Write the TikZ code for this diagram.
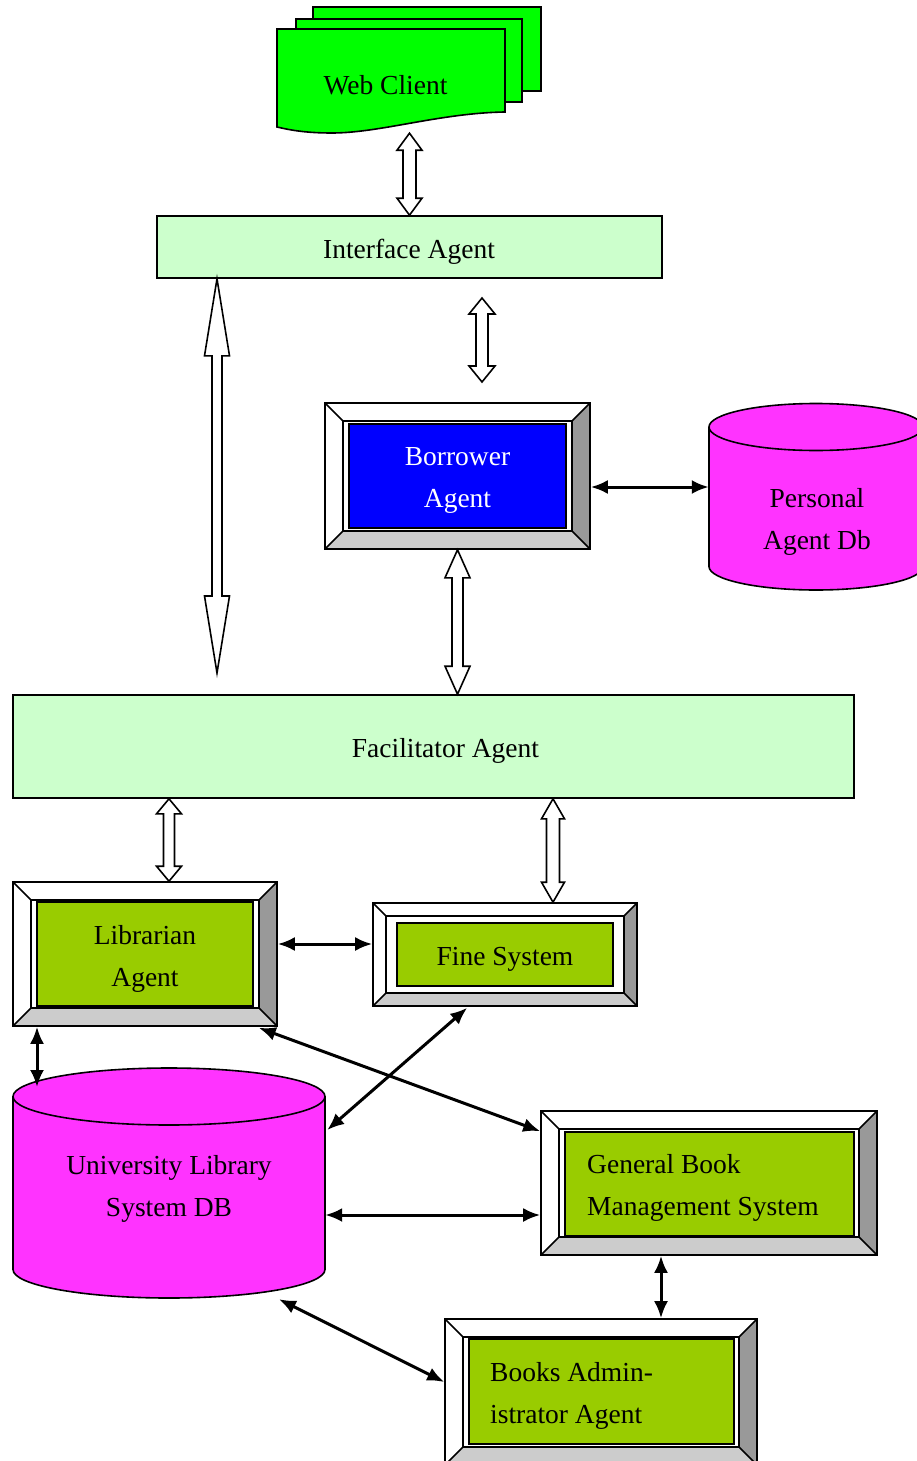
\documentclass[tikz,border=0pt]{standalone}
\usepackage{fontspec}
\setmainfont{Liberation Serif}
\usetikzlibrary{arrows.meta,calc,fit}

\definecolor{webgreen}{HTML}{00FF00}
\definecolor{palegreen}{HTML}{CCFFCC}
\definecolor{agentgreen}{HTML}{99CC00}
\definecolor{dbmagenta}{HTML}{FF33FF}
\definecolor{agentblue}{HTML}{0000FF}
\definecolor{bevelright}{HTML}{999999}
\definecolor{bevelbottom}{HTML}{CCCCCC}

\tikzset{
  lbl/.style={font=\fontsize{27.5}{42}\selectfont, inner sep=0pt, align=center},
  edge/.style={draw=black, line width=1.6pt},
  panel/.style={edge, inner sep=0pt},
  link/.style={line width=3pt, {Latex[length=17pt,width=14pt]}-{Latex[length=17pt,width=14pt]}},
  hollow/.style={draw=black, fill=white, line width=1.6pt, line join=miter},
}

% framed panel with a bevelled border: name, left, top, right, bottom, bevel width
\newcommand\bevelframe[6]{%
  \fill[white] (#2,#3) -- (#4,#3) -- (#4-#6,#3+#6) -- (#2+#6,#3+#6) -- (#2+#6,#5-#6) -- (#2,#5) -- cycle;
  \fill[bevelright] (#4,#3) -- (#4,#5) -- (#4-#6,#5-#6) -- (#4-#6,#3+#6) -- cycle;
  \fill[bevelbottom] (#2,#5) -- (#4,#5) -- (#4-#6,#5-#6) -- (#2+#6,#5-#6) -- cycle;
  \draw[edge] (#2,#3) -- (#2+#6,#3+#6) (#4,#3) -- (#4-#6,#3+#6)
              (#2,#5) -- (#2+#6,#5-#6) (#4,#5) -- (#4-#6,#5-#6);
  \draw[edge] (#2+#6,#3+#6) rectangle (#4-#6,#5-#6);
  \node[panel, fit={(#2,#3) (#4,#5)}] (#1) {};
}

% database cylinder: name, centre x, top y, bottom y, x radius, y radius
\newcommand\dbcylinder[6]{%
  \filldraw[fill=dbmagenta, edge] (#2,#4) ellipse [x radius=#5pt, y radius=#6pt];
  \fill[dbmagenta] (#2-#5,#3) rectangle (#2+#5,#4);
  \draw[edge] (#2-#5,#3) -- (#2-#5,#4) (#2+#5,#3) -- (#2+#5,#4);
  \filldraw[fill=dbmagenta, edge] (#2,#3) ellipse [x radius=#5pt, y radius=#6pt];
  \node[inner sep=0pt, fit={(#2-#5,#3-#6) (#2+#5,#4+#6)}] (#1) {};
}

% open double-headed block arrow between an upper and a lower tip:
% upper tip, lower tip, shaft half width, head half width, head length
\newcommand\hollowarrow[5]{%
  \draw[hollow] let \p1=(#1), \p2=(#2) in
    (\x1,\y1) -- (\x1+#4,\y1-#5) -- (\x1+#3,\y1-#5) -- (\x1+#3,\y2+#5)
    -- (\x1+#4,\y2+#5) -- (\x1,\y2) -- (\x1-#4,\y2+#5) -- (\x1-#3,\y2+#5)
    -- (\x1-#3,\y1-#5) -- (\x1-#4,\y1-#5) -- cycle;
}

\begin{document}
\begin{tikzpicture}[x=1pt,y=-1pt]
\useasboundingbox (0,0) rectangle (917,1461);
\clip (0,0) rectangle (917,1461);

% ---- web client: a stack of three documents ----
\filldraw[fill=webgreen, edge] (313,7) rectangle (541,91);
\filldraw[fill=webgreen, edge] (296,19) rectangle (522,102);
\filldraw[fill=webgreen, edge] (277,29) -- (505,29) -- (505,112)
  .. controls (440,113) and (380,133) .. (332,133)
  .. controls (305,133) and (290,130) .. (277,127) -- cycle;
\node[inner sep=0pt, fit={(277,29) (505,133)}] (web) {};
\node[lbl] (webtxt) at (385.5,85) {Web Client};

% ---- interface and facilitator bars ----
\node[panel, fill=palegreen, fit={(157,216) (662,278)}] (iface) {};
\node[lbl] (ifacetxt) at (409,252) {Interface Agent};
\node[panel, fill=palegreen, fit={(13,695) (854,798)}] (facil) {};
\node[lbl] (faciltxt) at (445.5,751) {Facilitator Agent};

% ---- borrower agent ----
\bevelframe{borF}{325}{403}{590}{549}{18}
\node[panel, fill=agentblue, fit={(349,424) (566,528)}] (borrower) {};
\node[lbl, text=white] (borrowertxt) at (457.5,480) {Borrower\\Agent};

% ---- personal agent database ----
\dbcylinder{pdb}{816}{427}{566.5}{107}{23.5}
\node[lbl] (pdbtxt) at (817,522) {Personal\\Agent Db};

% ---- librarian agent ----
\bevelframe{libF}{13}{882}{277}{1026}{18}
\node[panel, fill=agentgreen, fit={(37,902) (253,1006)}] (librarian) {};
\node[lbl] (librariantxt) at (145,959) {Librarian\\Agent};

% ---- fine system ----
\bevelframe{fineF}{373}{903}{637}{1006}{13}
\node[panel, fill=agentgreen, fit={(397,923) (613,986)}] (fine) {};
\node[lbl] (finetxt) at (505,959) {Fine System};

% ---- university library database ----
\dbcylinder{uls}{169}{1096.5}{1269.5}{156}{28.5}
\node[lbl] (ulstxt) at (169,1189) {University Library\\System DB};

% ---- general book management system ----
\bevelframe{gbmsF}{541}{1111}{877}{1255}{18}
\node[panel, fill=agentgreen, fit={(565,1132) (854,1236)}] (gbms) {};
\node[lbl, align=left, anchor=west] (gbmstxt) at (587,1188) {General Book\\Management System};

% ---- books administrator agent ----
\bevelframe{booksF}{445}{1319}{757}{1465}{18}
\node[panel, fill=agentgreen, fit={(469,1339) (734,1444)}] (books) {};
\node[lbl, align=left, anchor=west] (bookstxt) at (490,1396) {Books Admin-\\istrator Agent};

% ---- helper coordinates for connector ends ----
\coordinate (ib-top) at (482,298);
\coordinate (ib-bot) at (482,382);
\coordinate (lf-bot) at (217,673);
\coordinate (fl-x) at (169,0);
\coordinate (ff-x) at (553,0);
\coordinate (y487) at (0,487);
\coordinate (y944) at (0,944);
\coordinate (y1215) at (0,1215);
\coordinate (x37) at (37,0);
\coordinate (x661) at (661,0);
\coordinate (uls-top) at (37,1087);

% ---- open block arrows ----
\hollowarrow{web.south -| iface.north}{iface.north}{6.5pt}{12.5pt}{17pt}
\hollowarrow{ib-top}{ib-bot}{6pt}{13pt}{16pt}
\hollowarrow{iface.south -| lf-bot}{lf-bot}{5pt}{12.5pt}{77pt}
\hollowarrow{borF.south}{facil.north -| borF.south}{5.5pt}{12.5pt}{28pt}
\hollowarrow{facil.south -| fl-x}{libF.north -| fl-x}{5.5pt}{12.5pt}{15pt}
\hollowarrow{facil.south -| ff-x}{fineF.north -| ff-x}{6.5pt}{11.5pt}{20pt}

% ---- solid two-way links ----
\draw[link] (borF.east |- y487) -- (pdb.west |- y487);
\draw[link] (libF.east |- y944) -- (fineF.west |- y944);
\draw[link] (libF.south -| x37) -- (uls-top);
\draw[link] ($(libF.south east)+(-19,1)$) -- ($(gbmsF.north west)+(0,21)$);
\draw[link] ($(fineF.south west)+(95,1)$) -- ($(uls.east)+(2,-53)$);
\draw[link] (uls.east |- y1215) -- (gbmsF.west |- y1215);
\draw[link] (gbmsF.south -| x661) -- (booksF.north -| x661);
\draw[link] ($(uls.south)+(110,1)$) -- ($(booksF.west)+(0,-10)$);
\end{tikzpicture}
\end{document}
